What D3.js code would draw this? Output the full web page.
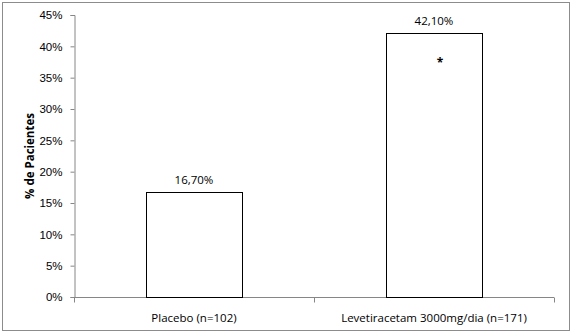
<!DOCTYPE html>
<html>
<head>
<meta charset="utf-8">
<script src="https://cdn.jsdelivr.net/npm/d3@7"></script>
<style>
  body { margin: 0; background: #fff; }
  svg { display: block; font-family: "Open Sans", "Liberation Sans", sans-serif; }
</style>
</head>
<body>
<div id="chart"></div>
<script>
const categories = ["Placebo (n=102)", "Levetiracetam 3000mg/dia (n=171)"];
const values = [16.7, 42.1];
const valueLabels = ["16,70%", "42,10%"];
const marks = ["", "*"];
const yTicks = [0, 5, 10, 15, 20, 25, 30, 35, 40, 45];

const width = 572;
const height = 333;
const marginTop = 15;
const marginRight = 18;
const marginBottom = 36;
const marginLeft = 74;

const svg = d3.select("#chart")
    .append("svg")
    .attr("width", width)
    .attr("height", height);

// outer frame
svg.append("rect")
    .attr("x", 2.5).attr("y", 2.5)
    .attr("width", width - 5).attr("height", height - 5)
    .attr("fill", "none")
    .attr("stroke", "#8c8c8c");

const x = d3.scaleBand()
    .domain(categories)
    .range([marginLeft, width - marginRight])
    .paddingInner(0.6)
    .paddingOuter(0.3);

const y = d3.scaleLinear()
    .domain([0, 45])
    .range([height - marginBottom, marginTop]);

// y axis
const yAxis = svg.append("g")
    .attr("transform", `translate(${marginLeft + 0.5},0)`)
    .call(d3.axisLeft(y).tickValues(yTicks).tickFormat(d => d + "%").tickSizeOuter(0).tickSize(4).tickPadding(8));
yAxis.select(".domain").attr("stroke", "#868686");
yAxis.selectAll(".tick line").attr("stroke", "#868686");
yAxis.selectAll(".tick text").attr("font-size", 11.5).attr("fill", "#000");

// x axis
const step = x.step();
const xAxis = svg.append("g")
    .attr("transform", `translate(0,${y(0) + 0.5})`);
xAxis.append("line")
    .attr("x1", marginLeft).attr("x2", width - marginRight)
    .attr("stroke", "#868686");
xAxis.selectAll("line.tk")
    .data([0, 1, 2])
    .join("line")
    .attr("class", "tk")
    .attr("x1", i => Math.round(marginLeft + i * step) + 0.5)
    .attr("x2", i => Math.round(marginLeft + i * step) + 0.5)
    .attr("y1", 0).attr("y2", 5)
    .attr("stroke", "#868686");
xAxis.selectAll("text")
    .data(categories)
    .join("text")
    .attr("x", d => x(d) + x.bandwidth() / 2)
    .attr("y", 24)
    .attr("text-anchor", "middle")
    .attr("font-size", 11.5)
    .text(d => d);

// bars
svg.append("g")
    .selectAll("rect")
    .data(values)
    .join("rect")
    .attr("x", (d, i) => Math.round(x(categories[i])) + 0.5)
    .attr("y", d => Math.round(y(d)) + 0.5)
    .attr("width", x.bandwidth())
    .attr("height", d => Math.round(y(0)) - Math.round(y(d)))
    .attr("fill", "#fff")
    .attr("stroke", "#000")
    .attr("stroke-width", 1);

// value labels
svg.append("g")
    .selectAll("text")
    .data(values)
    .join("text")
    .attr("x", (d, i) => x(categories[i]) + x.bandwidth() / 2)
    .attr("y", d => y(d) - 8)
    .attr("text-anchor", "middle")
    .attr("font-size", 11.5)
    .text((d, i) => valueLabels[i]);

// significance marks
svg.append("g")
    .selectAll("text")
    .data(values)
    .join("text")
    .attr("x", (d, i) => x(categories[i]) + x.bandwidth() / 2 + 6)
    .attr("y", d => y(d) + 34)
    .attr("text-anchor", "middle")
    .attr("font-size", 12)
    .attr("font-weight", "bold")
    .text((d, i) => marks[i]);

// y label
svg.append("text")
    .attr("transform", `translate(34,${(y(0) + y(45)) / 2}) rotate(-90)`)
    .attr("text-anchor", "middle")
    .attr("font-size", 11.5)
    .attr("font-weight", "bold")
    .text("% de Pacientes");
</script>
</body>
</html>
